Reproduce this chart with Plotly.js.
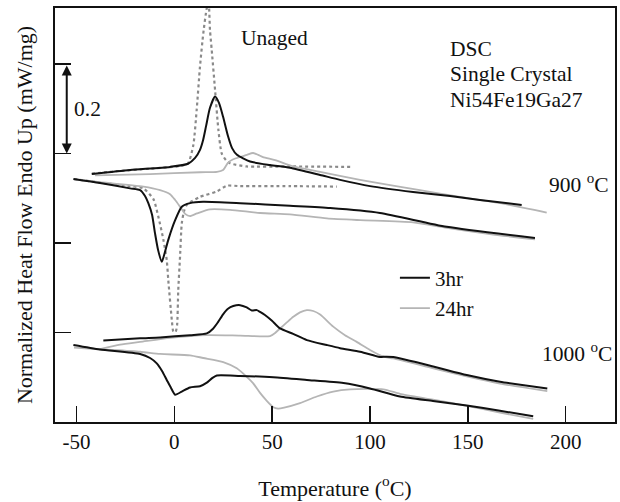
<!DOCTYPE html>
<html>
<head>
<meta charset="utf-8">
<script src="https://cdn.plot.ly/plotly-3.0.1.min.js"></script>
<style>html,body{margin:0;padding:0;background:#fff;}#chart{width:620px;height:502px;}</style>
</head>
<body>
<div id="chart"></div>
<script>
// Temperature (°C) and normalized heat flow (mW/mg, arbitrary offset)

// 900 °C, 3hr (black)
const t900_3h_heat = [-42.2,-22.6,-2.2,7.0,10.6,13.1,14.7,16.2,18.2,20.8,22.8,24.9,27.4,29.5,32.0,38.7,48.9,59.1,74.5,84.7,100.0,122.0,140.9,156.2,177.5];
const q900_3h_heat = [0.554,0.563,0.570,0.577,0.590,0.608,0.630,0.661,0.702,0.727,0.713,0.682,0.639,0.612,0.597,0.582,0.574,0.568,0.552,0.541,0.527,0.514,0.505,0.496,0.485];
const t900_3h_cool = [-51.6,-38.0,-22.6,-17.5,-15.0,-13.3,-11.4,-9.9,-8.3,-6.4,-4.8,-3.1,0.4,3.8,8.0,14.7,33.6,59.1,79.6,105.1,139.2,184.3];
const q900_3h_cool = [0.543,0.534,0.522,0.518,0.505,0.489,0.463,0.422,0.384,0.358,0.380,0.407,0.451,0.481,0.489,0.492,0.489,0.483,0.478,0.467,0.436,0.411];

// 900 °C, 24hr (gray)
const t900_24h_heat = [-40.5,-12.4,13.1,21.8,24.9,27.4,30.1,34.4,37.1,40.2,42.8,45.3,51.5,60.7,74.5,94.9,105.1,125.5,146.0,166.4,190.3];
const q900_24h_heat = [0.551,0.554,0.558,0.559,0.563,0.579,0.587,0.593,0.597,0.601,0.597,0.592,0.585,0.571,0.559,0.541,0.533,0.518,0.503,0.489,0.468];
const t900_24h_cool = [-51.3,-38.0,-15.8,-7.3,-2.2,0.4,2.9,5.5,8.0,11.6,18.2,28.5,43.8,59.1,78.0,94.9,122.0,139.2,161.3,184.3];
const q900_24h_cool = [0.542,0.536,0.526,0.518,0.509,0.496,0.481,0.465,0.460,0.466,0.475,0.474,0.467,0.464,0.455,0.451,0.446,0.434,0.420,0.408];

// Unaged (dotted)
const tUnaged_heat = [-42.2,-27.7,-12.4,2.9,7.0,9.7,11.4,13.1,14.8,16.6,17.5,18.2,19.1,20.8,22.5,24.2,26.4,28.5,37.0,59.1,90.8];
const qUnaged_heat = [0.555,0.561,0.566,0.572,0.578,0.619,0.697,0.794,0.869,0.925,0.935,0.876,0.831,0.742,0.653,0.600,0.585,0.578,0.571,0.571,0.570];
const tUnaged_cool = [-51.3,-38.0,-22.6,-15.8,-10.7,-8.2,-5.6,-3.9,-3.1,-1.3,-0.5,0.6,1.4,2.0,2.9,3.8,5.0,6.3,13.1,21.7,26.8,33.6,59.1,83.1];
const qUnaged_cool = [0.543,0.535,0.527,0.522,0.498,0.459,0.407,0.362,0.317,0.228,0.202,0.201,0.217,0.295,0.369,0.444,0.472,0.485,0.503,0.515,0.528,0.527,0.527,0.526];

// 1000 °C, 3hr (black)
const t1000_3h_heat = [-36.3,-17.5,-7.3,8.0,16.6,19.9,22.3,25.0,27.4,30.1,33.6,37.0,39.6,42.1,43.8,46.3,49.9,54.0,60.7,67.7,77.9,84.7,94.9,101.7,105.1,108.2,111.9,132.3,149.4,166.4,190.6];
const q1000_3h_heat = [0.182,0.187,0.189,0.194,0.198,0.209,0.223,0.241,0.253,0.259,0.261,0.256,0.249,0.250,0.246,0.239,0.226,0.209,0.197,0.183,0.172,0.165,0.157,0.149,0.145,0.146,0.145,0.124,0.105,0.090,0.075];
const t1000_3h_cool = [-51.6,-38.0,-17.5,-12.4,-9.0,-6.3,-3.9,-1.7,0.4,3.8,8.0,13.1,16.6,19.3,21.7,33.6,50.6,67.7,86.4,100.0,115.3,132.2,149.4,166.4,183.4];
const q1000_3h_cool = [0.172,0.162,0.152,0.143,0.131,0.114,0.094,0.076,0.061,0.068,0.077,0.080,0.088,0.098,0.104,0.103,0.100,0.094,0.087,0.075,0.057,0.047,0.037,0.025,0.013];

// 1000 °C, 24hr (gray)
const t1000_24h_heat = [-38.0,-27.7,-17.5,-2.2,16.6,33.6,48.9,51.5,54.0,57.6,60.8,64.2,67.7,71.0,74.5,81.2,87.2,93.2,100.0,106.8,111.8,132.3,149.4,166.4,190.6];
const q1000_24h_heat = [0.163,0.173,0.179,0.188,0.194,0.193,0.192,0.199,0.209,0.223,0.235,0.245,0.250,0.248,0.240,0.213,0.194,0.179,0.161,0.146,0.142,0.120,0.102,0.086,0.069];
const t1000_24h_cool = [-51.3,-36.3,-17.5,-7.3,8.0,14.8,25.0,31.9,37.0,40.2,43.8,46.9,50.6,53.0,56.1,64.2,72.8,81.2,89.8,106.8,115.3,132.2,149.4,166.4,183.4];
const q1000_24h_cool = [0.166,0.162,0.157,0.152,0.149,0.143,0.134,0.120,0.101,0.087,0.065,0.049,0.033,0.030,0.032,0.042,0.057,0.068,0.073,0.073,0.063,0.050,0.036,0.021,0.007];

const xTicks = [-50, 0, 50, 100, 150, 200];
const yTicks = [0.2, 0.4, 0.6, 0.8];
const legendNames = ['3hr', '24hr'];

const BLACK = '#111111', GRAY = '#b5b5b5', DOT = '#8a8a8a';
const FONT = 'Liberation Serif, Times New Roman, serif';

function tr(x, y, color, width, dash, name, showlegend) {
  return {x: x, y: y, type: 'scatter', mode: 'lines', name: name || '', showlegend: !!showlegend,
          line: {color: color, width: width, dash: dash || 'solid', shape: 'spline', smoothing: 0.6},
          hoverinfo: 'skip'};
}

const data = [
  tr(tUnaged_heat, qUnaged_heat, DOT, 2.2, 'dot'),
  tr(tUnaged_cool, qUnaged_cool, DOT, 2.2, 'dot'),
  tr(t900_24h_heat, q900_24h_heat, GRAY, 1.8),
  tr(t900_24h_cool, q900_24h_cool, GRAY, 1.8),
  tr(t1000_24h_heat, q1000_24h_heat, GRAY, 1.8),
  tr(t1000_24h_cool, q1000_24h_cool, GRAY, 1.8),
  tr(t900_3h_heat, q900_3h_heat, BLACK, 2),
  tr(t900_3h_cool, q900_3h_cool, BLACK, 2),
  tr(t1000_3h_heat, q1000_3h_heat, BLACK, 2),
  tr(t1000_3h_cool, q1000_3h_cool, BLACK, 2),
  // legend entries
  Object.assign(tr([null], [null], BLACK, 2, 'solid', legendNames[0], true), {legendrank: 1}),
  Object.assign(tr([null], [null], GRAY, 1.8, 'solid', legendNames[1], true), {legendrank: 2})
];

const txt = (x, y, s, extra) => Object.assign({x: x, y: y, xref: 'x', yref: 'y', text: s, showarrow: false,
  xanchor: 'left', yanchor: 'middle', font: {family: FONT, size: 21.5, color: '#111'}}, extra || {});

const layout = {
  width: 620, height: 502,
  margin: {l: 55, r: 5, t: 8, b: 80},
  paper_bgcolor: '#fff', plot_bgcolor: '#fff',
  font: {family: FONT, size: 21, color: '#111'},
  xaxis: {
    range: [-61, 225.2], tickvals: xTicks, ticktext: xTicks.map(String),
    ticks: 'inside', ticklen: 16, tickwidth: 1.5, tickcolor: '#111',
    showline: true, mirror: true, linewidth: 2, linecolor: '#111',
    showgrid: false, zeroline: false,
    tickfont: {family: FONT, size: 21, color: '#111'},
    title: {text: 'Temperature (<sup>o</sup>C)', font: {family: FONT, size: 22, color: '#111'}, standoff: 27}
  },
  yaxis: {
    range: [0, 0.925], tickvals: yTicks, showticklabels: false,
    ticks: 'inside', ticklen: 16, tickwidth: 1.5, tickcolor: '#111',
    showline: true, mirror: true, linewidth: 2, linecolor: '#111',
    showgrid: false, zeroline: false,
    title: {text: 'Normalized Heat Flow Endo Up (mW/mg)', font: {family: FONT, size: 22, color: '#111'}, standoff: 14}
  },
  showlegend: true,
  legend: {x: 0.607, y: 0.397, xanchor: 'left', yanchor: 'top', bgcolor: 'rgba(0,0,0,0)',
           font: {family: FONT, size: 21, color: '#111'}, itemwidth: 30, tracegroupgap: 0},
  annotations: [
    txt(33.1, 0.858, 'Unaged'),
    txt(139.9, 0.8335, 'DSC'),
    txt(139.9, 0.7765, 'Single Crystal'),
    txt(139.9, 0.7196, 'Ni54Fe19Ga27'),
    txt(190.3, 0.534, '900 <sup>o</sup>C'),
    txt(186.9, 0.156, '1000 <sup>o</sup>C'),
    txt(-52.1, 0.699, '0.2'),
    {x: -55, y: 0.6, ax: -55, ay: 0.8, xref: 'x', yref: 'y', axref: 'x', ayref: 'y', text: '',
     showarrow: true, arrowside: 'end+start', arrowhead: 2, arrowsize: 1, arrowwidth: 2, arrowcolor: '#111'}
  ]
};

Plotly.newPlot('chart', data, layout, {displayModeBar: false, staticPlot: true});
</script>
</body>
</html>
